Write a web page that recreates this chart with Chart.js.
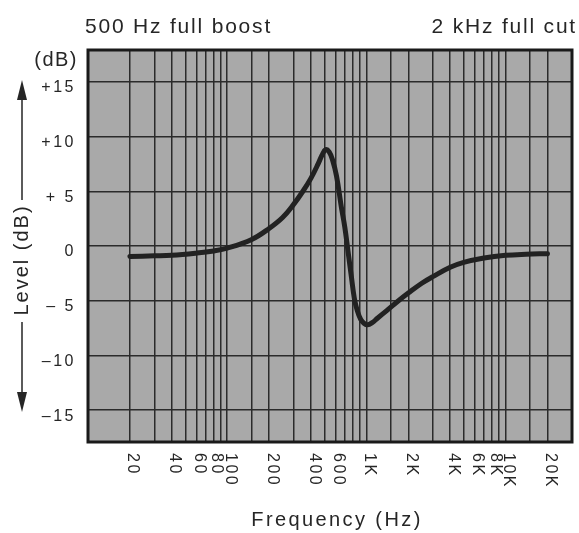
<!DOCTYPE html>
<html>
<head>
<meta charset="utf-8">
<script src="https://cdn.jsdelivr.net/npm/chart.js@4/dist/chart.umd.min.js"></script>
<style>
  body { margin: 0; background: #fff; }
  #wrap { position: relative; width: 579px; height: 533px; }
</style>
</head>
<body>
<div id="wrap"><canvas id="grafico"></canvas></div>
<script>
// Curva de respuesta (500 Hz full boost / 2 kHz full cut)
const frecuencias = [20, 30, 40, 60, 80, 100, 150, 200, 250, 300, 350, 400, 450, 480, 510, 540, 570, 610, 660, 700, 740, 780, 820, 860, 910, 960, 1020, 1100, 1200, 1400, 1700, 2000, 2500, 3000, 4000, 5000, 7000, 10000, 14000, 20000];
const nivelesDb = [-0.95, -0.9, -0.85, -0.65, -0.45, -0.2, 0.6, 1.6, 2.6, 3.8, 5.0, 6.2, 7.5, 8.3, 8.8, 8.6, 7.9, 6.4, 3.6, 1.7, -0.6, -2.8, -4.8, -5.9, -6.7, -7.05, -7.2, -7.0, -6.6, -5.9, -5.0, -4.3, -3.4, -2.8, -1.95, -1.5, -1.1, -0.85, -0.75, -0.7];

// Etiquetas de ejes
const ticksFrecuencia = [20, 40, 60, 80, 100, 200, 400, 600, 1000, 2000, 4000, 6000, 8000, 10000, 20000];
const etiquetasFrecuencia = ["20", "40", "60", "80", "100", "200", "400", "600", "1K", "2K", "4K", "6K", "8K", "10K", "20K"];
const ticksNivel = [15, 10, 5, 0, -5, -10, -15];
const etiquetasNivel = ["+15", "+10", "+ 5", "0", "\u2013 5", "\u201310", "\u201315"];

const tituloIzq = "500 Hz full boost";
const tituloDer = "2 kHz full cut";

const FUENTE = '"Liberation Sans", Arial, sans-serif';
const TINTA = "#262626";

// Fondo gris del área de trazado
const fondoPlugin = {
  id: "fondo",
  beforeDraw(chart) {
    const { ctx, chartArea: a } = chart;
    ctx.save();
    ctx.fillStyle = "#a9a9a9";
    ctx.fillRect(a.left, a.top, a.right - a.left, a.bottom - a.top);
    ctx.restore();
  }
};

// Marco, etiquetas rotadas y textos
const textosPlugin = {
  id: "textos",
  afterDraw(chart) {
    const { ctx, chartArea: a } = chart;
    const sx = chart.scales.x, sy = chart.scales.y;
    ctx.save();

    // marco
    ctx.strokeStyle = "#1a1a1a";
    ctx.lineWidth = 3;
    ctx.strokeRect(a.left, a.top, a.right - a.left, a.bottom - a.top);

    ctx.fillStyle = TINTA;

    // títulos superiores
    ctx.font = "21px " + FUENTE;
    ctx.letterSpacing = "1.8px";
    ctx.textBaseline = "alphabetic";
    ctx.textAlign = "left";
    ctx.fillText(tituloIzq, 85, 33);
    ctx.textAlign = "right";
    ctx.fillText(tituloDer, 577, 33);

    // (dB)
    ctx.font = "20px " + FUENTE;
    ctx.letterSpacing = "1.5px";
    ctx.fillText("(dB)", 78, 66);

    // eje Y
    ctx.font = "16px " + FUENTE;
    ctx.letterSpacing = "2.5px";
    ctx.textAlign = "right";
    ctx.textBaseline = "middle";
    ticksNivel.forEach((v, i) => {
      ctx.fillText(etiquetasNivel[i], 76, sy.getPixelForValue(v) + 6);
    });

    // eje X (texto girado 90° horario)
    ticksFrecuencia.forEach((f, i) => {
      const px = sx.getPixelForValue(f);
      ctx.save();
      ctx.translate(px + 3, a.bottom + 11);
      ctx.rotate(Math.PI / 2);
      ctx.textAlign = "left";
      ctx.textBaseline = "middle";
      ctx.fillText(etiquetasFrecuencia[i], 0, 0);
      ctx.restore();
    });

    // título eje X
    ctx.font = "20px " + FUENTE;
    ctx.letterSpacing = "2.4px";
    ctx.textAlign = "center";
    ctx.textBaseline = "alphabetic";
    ctx.fillText("Frequency (Hz)", 337, 526);

    // título eje Y con flechas
    const cx = 22, cy = 260;
    ctx.letterSpacing = "2px";
    ctx.save();
    ctx.translate(cx, cy);
    ctx.rotate(-Math.PI / 2);
    ctx.textAlign = "center";
    ctx.textBaseline = "middle";
    ctx.fillText("Level (dB)", 0, 0);
    ctx.restore();

    ctx.strokeStyle = TINTA;
    ctx.lineWidth = 1.5;
    ctx.beginPath();
    ctx.moveTo(cx, 200); ctx.lineTo(cx, 95);
    ctx.moveTo(cx, 322); ctx.lineTo(cx, 395);
    ctx.stroke();
    ctx.beginPath();
    ctx.moveTo(cx, 80); ctx.lineTo(cx - 5, 100); ctx.lineTo(cx + 5, 100); ctx.closePath();
    ctx.moveTo(cx, 412); ctx.lineTo(cx - 5, 392); ctx.lineTo(cx + 5, 392); ctx.closePath();
    ctx.fill();

    ctx.restore();
  }
};

new Chart(document.getElementById("grafico"), {
  type: "line",
  data: {
    datasets: [{
      data: frecuencias.map((f, i) => ({ x: f, y: nivelesDb[i] })),
      borderColor: "#222",
      borderWidth: 5,
      pointRadius: 0,
      tension: 0.4,
      borderCapStyle: "round",
      borderJoinStyle: "round",
      fill: false
    }]
  },
  options: {
    responsive: true,
    maintainAspectRatio: false,
    animation: false,
    events: [],
    layout: { padding: { left: 88, right: 7, top: 50, bottom: 91 } },
    plugins: { legend: { display: false }, tooltip: { enabled: false } },
    scales: {
      x: {
        type: "logarithmic",
        min: 10,
        max: 30000,
        ticks: { display: false },
        grid: { color: "#2b2b2b", lineWidth: 1.5, drawTicks: false },
        border: { display: false },
        afterFit(scale) { scale.height = 0; }
      },
      y: {
        type: "linear",
        min: -17.9,
        max: 17.9,
        afterBuildTicks(scale) { scale.ticks = ticksNivel.map(v => ({ value: v })); },
        ticks: { display: false },
        grid: { color: "#2b2b2b", lineWidth: 1.5, drawTicks: false },
        border: { display: false },
        afterFit(scale) { scale.width = 0; }
      }
    }
  },
  plugins: [fondoPlugin, textosPlugin]
});
</script>
</body>
</html>
